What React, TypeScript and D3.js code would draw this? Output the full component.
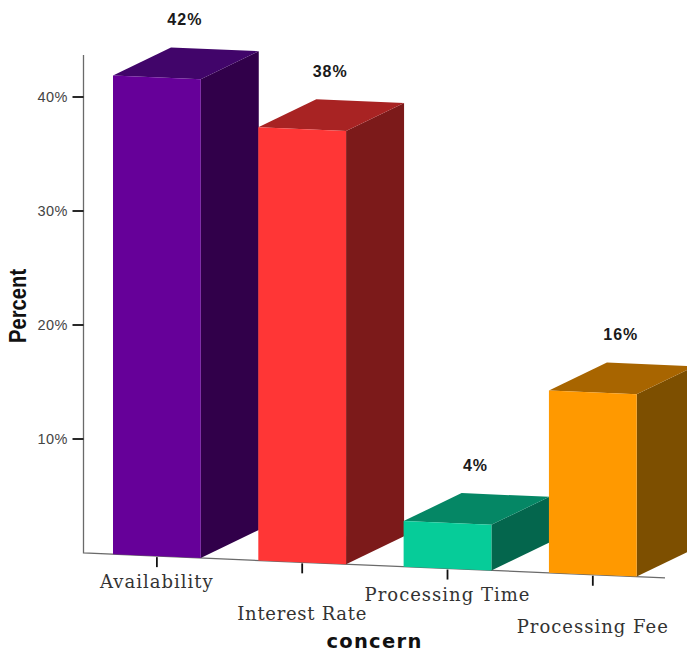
import React from "react";
import * as d3 from "d3";

// Survey results: main concern of respondents, in percent of answers.
const categories = ["Availability", "Interest Rate", "Processing Time", "Processing Fee"];
const percents = [42, 38, 4, 16];
const percentTicks = [10, 20, 30, 40];

const frontColors = ["#660099", "#ff3636", "#06cc99", "#ff9900"];
const topColors = ["#41056a", "#a82323", "#058765", "#a86500"];
const sideColors = ["#31004a", "#7c1a1a", "#04664d", "#7d4f00"];

const WIDTH = 687;
const HEIGHT = 653;
const AXIS_X = 83.5;
const AXIS_TOP = 55;
const FLOOR_END = 665;
const FLOOR_SLOPE = 0.0427;
const DEPTH_X = 58;
const DEPTH_Y = -28;

const yScale = d3.scaleLinear().domain([0, 40]).range([553, 97]);
const xScale = d3
  .scaleBand<string>()
  .domain(categories)
  .range([113, 636.7])
  .paddingInner(0.396)
  .paddingOuter(0);

// The floor runs slightly downhill to the right, so each height is
// measured from the floor line at that x position.
const floorY = (x: number) => yScale(0) + (x - AXIS_X) * FLOOR_SLOPE;
const valueY = (x: number, value: number) => floorY(x) - (yScale(0) - yScale(value));

const poly = (points: [number, number][]) => d3.line()(points) + "Z";

const sans = "'Liberation Sans', Arial, sans-serif";
const serif = "'DejaVu Serif', serif";

export default function App() {
  const band = xScale.bandwidth();
  return (
    <svg
      width={WIDTH}
      height={HEIGHT}
      viewBox={`0 0 ${WIDTH} ${HEIGHT}`}
      style={{ position: "absolute", left: 0, top: 0, background: "#fff" }}
    >
      {/* axes */}
      <path
        d={`M${AXIS_X},${AXIS_TOP}L${AXIS_X},${floorY(AXIS_X)}L${FLOOR_END},${floorY(FLOOR_END)}`}
        stroke="#6a6a6a"
        strokeWidth={1.3}
        fill="none"
      />
      {percentTicks.map((t) => (
        <g key={t}>
          <line x1={AXIS_X - 11} x2={AXIS_X} y1={yScale(t)} y2={yScale(t)} stroke="#111" strokeWidth={1.8} />
          <text
            x={68}
            y={yScale(t) + 5}
            textAnchor="end"
            fontFamily={sans}
            fontSize={14.5}
            letterSpacing={0.5}
            fill="#444"
          >
            {t}%
          </text>
        </g>
      ))}

      {/* bars, left to right so each bar covers its left neighbour's side */}
      {categories.map((c, i) => {
        const x0 = xScale(c)!;
        const x1 = x0 + band;
        const v = percents[i];
        const yL = valueY(x0, v);
        const yR = valueY(x1, v);
        return (
          <g key={c}>
            <path
              d={poly([
                [x1, yR],
                [x1 + DEPTH_X, yR + DEPTH_Y],
                [x1 + DEPTH_X, floorY(x1) + DEPTH_Y],
                [x1, floorY(x1)],
              ])}
              fill={sideColors[i]}
            />
            <path
              d={poly([
                [x0, yL],
                [x0 + DEPTH_X, yL + DEPTH_Y],
                [x1 + DEPTH_X, yR + DEPTH_Y],
                [x1, yR],
              ])}
              fill={topColors[i]}
            />
            <path
              d={poly([
                [x0, yL],
                [x1, yR],
                [x1, floorY(x1)],
                [x0, floorY(x0)],
              ])}
              fill={frontColors[i]}
            />
          </g>
        );
      })}

      {/* category ticks and staggered labels */}
      {categories.map((c, i) => {
        const cx = xScale(c)! + band / 2;
        return (
          <g key={c}>
            <line x1={cx} x2={cx} y1={floorY(cx) + 1} y2={floorY(cx) + 11} stroke="#111" strokeWidth={1.8} />
            <text
              x={cx}
              y={floorY(cx) + 32 + (i % 2 ? 26 : 0)}
              textAnchor="middle"
              fontFamily={serif}
              fontSize={18}
              letterSpacing={i === 1 ? 0.7 : 1}
              fill="#333"
            >
              {c}
            </text>
          </g>
        );
      })}

      {/* value labels above each bar */}
      {categories.map((c, i) => {
        const cx = xScale(c)! + band / 2;
        return (
          <text
            key={c}
            x={cx + DEPTH_X / 2 - 1}
            y={valueY(cx, percents[i]) + DEPTH_Y - 24}
            textAnchor="middle"
            fontFamily={sans}
            fontWeight="bold"
            fontSize={16}
            letterSpacing={1}
            fill="#1a1a1a"
          >
            {percents[i]}%
          </text>
        );
      })}

      {/* axis titles */}
      <text
        transform="translate(26,306) rotate(-90) scale(0.88,1)"
        textAnchor="middle"
        fontFamily={sans}
        fontWeight="bold"
        fontSize={23}
        fill="#111"
      >
        Percent
      </text>
      <text
        x={374.5}
        y={648}
        textAnchor="middle"
        fontFamily="'DejaVu Sans', sans-serif"
        fontWeight="bold"
        fontSize={19.5}
        letterSpacing={1.3}
        fill="#111"
      >
        concern
      </text>
    </svg>
  );
}
